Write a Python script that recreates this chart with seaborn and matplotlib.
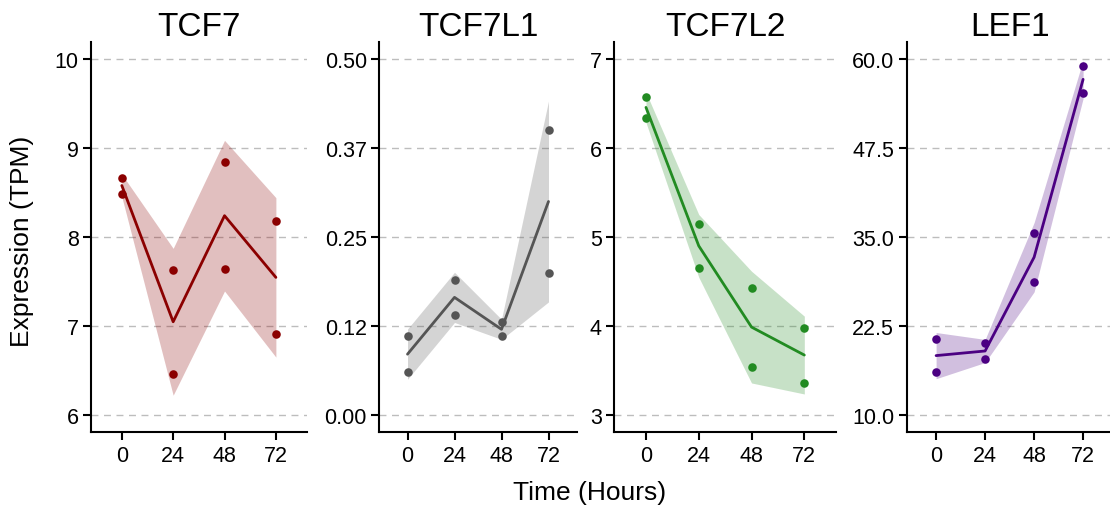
import numpy as np
import pandas as pd
import matplotlib
matplotlib.use("Agg")
import matplotlib.pyplot as plt
import seaborn as sns

sns.set_style("white")
plt.rcParams["font.family"] = ["Liberation Sans", "DejaVu Sans"]
plt.rcParams["text.color"] = "black"
plt.rcParams["axes.labelcolor"] = "black"
plt.rcParams["xtick.color"] = "black"
plt.rcParams["ytick.color"] = "black"

# Sampling times (hours); two replicates per time point
times = [0, 24, 48, 72]

genes = ["TCF7", "TCF7L1", "TCF7L2", "LEF1"]
colors = ["#8B0000", "#555555", "#228B22", "#4B0082"]

tcf7_rep1 = [8.67, 7.63, 8.84, 8.18]
tcf7_rep2 = [8.49, 6.46, 7.64, 6.91]

tcf7l1_rep1 = [0.110, 0.190, 0.130, 0.400]
tcf7l1_rep2 = [0.060, 0.140, 0.110, 0.200]

tcf7l2_rep1 = [6.58, 5.15, 4.43, 3.98]
tcf7l2_rep2 = [6.34, 4.65, 3.54, 3.36]

lef1_rep1 = [20.6, 20.1, 35.6, 59.1]
lef1_rep2 = [16.0, 17.8, 28.7, 55.3]

# y-axis tick values and their printed labels per gene
tcf7_ticks = [6, 7, 8, 9, 10]
tcf7_labels = ["6", "7", "8", "9", "10"]
tcf7l1_ticks = [0.0, 0.125, 0.25, 0.375, 0.5]
tcf7l1_labels = ["0.00", "0.12", "0.25", "0.37", "0.50"]
tcf7l2_ticks = [3, 4, 5, 6, 7]
tcf7l2_labels = ["3", "4", "5", "6", "7"]
lef1_ticks = [10.0, 22.5, 35.0, 47.5, 60.0]
lef1_labels = ["10.0", "22.5", "35.0", "47.5", "60.0"]

replicates = [
    (tcf7_rep1, tcf7_rep2),
    (tcf7l1_rep1, tcf7l1_rep2),
    (tcf7l2_rep1, tcf7l2_rep2),
    (lef1_rep1, lef1_rep2),
]
ticks = [tcf7_ticks, tcf7l1_ticks, tcf7l2_ticks, lef1_ticks]
labels = [tcf7_labels, tcf7l1_labels, tcf7l2_labels, lef1_labels]

rows = []
for g, (r1, r2) in zip(genes, replicates):
    for t, a, b in zip(times, r1, r2):
        rows.append({"gene": g, "time": t, "tpm": a})
        rows.append({"gene": g, "time": t, "tpm": b})
df = pd.DataFrame(rows)

W, H = 1110, 506
fig = plt.figure(figsize=(W / 100, H / 100), dpi=100)

# panel extents in pixels (left, right); shared top/bottom
panels = [(91, 306.7), (379.3, 576.7), (614.3, 836), (906.7, 1112.5)]
top_px, bot_px = 42.7, 433.3

for (l, r), g, c, tk, lb in zip(panels, genes, colors, ticks, labels):
    ax = fig.add_axes([l / W, 1 - bot_px / H, (r - l) / W, (bot_px - top_px) / H])
    sub = df[df.gene == g]
    lo, hi = tk[0], tk[-1]
    pad = 0.05 * (hi - lo)
    for y in tk:
        ax.axhline(y, color="#bdbdbd", lw=1.0, ls=(0, (5, 4)), zorder=0)
    sns.lineplot(data=sub, x="time", y="tpm", errorbar="sd", color=c, lw=2.0,
                 err_kws={"alpha": 0.25, "linewidth": 0}, ax=ax, zorder=2)
    sns.scatterplot(data=sub, x="time", y="tpm", color=c, s=38, linewidth=0,
                    ax=ax, zorder=3)
    ax.set_xlim(-14.4, 86.4)
    ax.set_ylim(lo - pad, hi + pad)
    ax.set_xticks(times)
    ax.set_xticklabels([str(t) for t in times])
    ax.set_yticks(tk)
    ax.set_yticklabels(lb)
    ax.set_xlabel("")
    ax.set_ylabel("")
    ax.set_title(g, fontsize=24, pad=5, color="black")
    for s in ["top", "right"]:
        ax.spines[s].set_visible(False)
    for s in ["left", "bottom"]:
        ax.spines[s].set_linewidth(1.5)
        ax.spines[s].set_color("black")
    ax.tick_params(axis="both", direction="out", length=6, width=1.5,
                   color="black", labelcolor="black", labelsize=15.5, pad=3,
                   left=True, bottom=True)

fig.text(22 / W, 1 - 241 / H, "Expression (TPM)", rotation=90,
         ha="center", va="center", fontsize=19, color="black")
fig.text(590 / W, 1 - 493 / H, "Time (Hours)", ha="center", va="center",
         fontsize=19, color="black")

fig.savefig("out.png", dpi=100)
